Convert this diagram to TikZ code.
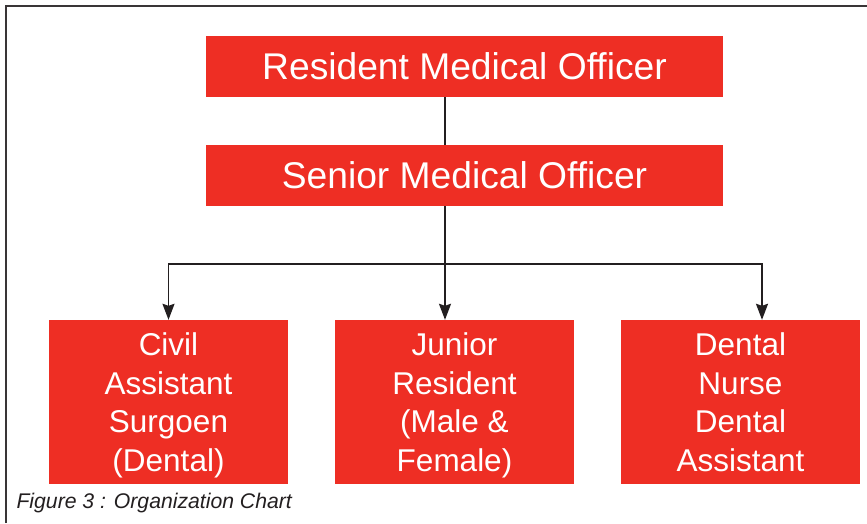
\documentclass[tikz,border=0pt]{standalone}
\usepackage{fontspec}
\setmainfont{Liberation Sans}
\usetikzlibrary{arrows.meta}

\definecolor{chartred}{HTML}{EE2E24}
\definecolor{chartink}{HTML}{231F20}

\tikzset{
  post/.style={fill=chartred, text=white, inner sep=0pt, align=center},
  toppost/.style={post, minimum width=517pt, minimum height=61pt, font=\fontsize{37.2}{44}\selectfont},
  staffpost/.style={post, minimum width=239pt, minimum height=164pt, text depth=0pt, font=\fontsize{31.5}{38.7}\selectfont},
  link/.style={draw=chartink, line width=1.7pt},
  drop/.style={link, -{Stealth[length=16pt, width=12pt, inset=2pt]}}
}

\begin{document}
\begin{tikzpicture}[x=1pt, y=-1pt]
				\useasboundingbox (0,0) rectangle (867,523);
				\draw[chartink!90, line width=2.5pt] (6,523) -- (6,6) -- (867,6);
				
				\node[toppost] (RMO) at (464.5,66.5) {Resident Medical Officer};
				\node[toppost] (SMO) at (464.5,175.5) {Senior Medical Officer};
				
				\node[staffpost] (CAS) at (168.5,402) {Civil\\Assistant\\Surgoen\\(Dental)};
				\node[staffpost] (JR) at (454.5,402) {Junior\\Resident\\(Male \&\\Female)};
				\node[staffpost] (DN) at (740.5,402) {Dental\\Nurse\\Dental\\Assistant};
				
				\coordinate (Bus) at (445,264);
				
				\draw[link] ([xshift=-19.5pt]RMO.south) -- ([xshift=-19.5pt]SMO.north);
				\draw[drop] ([xshift=-19.5pt]SMO.south) -- ([xshift=-9.5pt]JR.north);
				\draw[drop] (Bus) -| (CAS.north);
				\draw[drop] (Bus) -| ([xshift=21.5pt]DN.north);
				
				\node[anchor=west, text=chartink, font=\fontsize{21.2}{25}\selectfont\itshape] (Caption) at (13,503) {Figure 3 : Organization Chart};
				
			\end{tikzpicture}
\end{document}
